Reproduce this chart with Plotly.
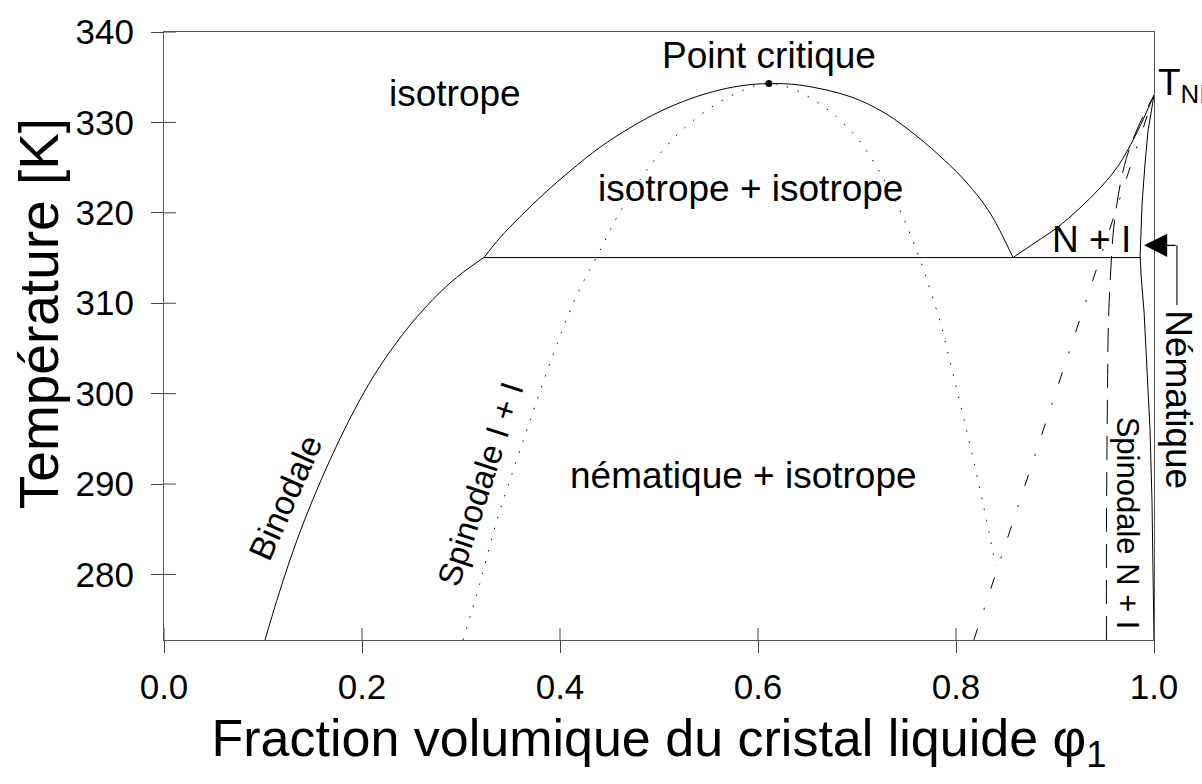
import plotly.graph_objects as go

# ---------------- data ----------------
x_ticks = [0.0, 0.2, 0.4, 0.6, 0.8, 1.0]
y_ticks = [280, 290, 300, 310, 320, 330, 340]
x_range = [0.0, 1.0]
y_range = [272.75, 340.0]

# binodal, isotropic branch below the triple line
bin_left_x = [0.102, 0.114, 0.127, 0.142, 0.159, 0.177, 0.196, 0.218, 0.248, 0.279, 0.301, 0.323]
bin_left_y = [272.75, 277.14, 281.53, 286.03, 290.53, 294.85, 298.94, 303.01, 307.51, 311.23, 313.32, 315.05]

# binodal dome I + I
dome_x = [0.3232, 0.3394, 0.3596, 0.3848, 0.4101, 0.4404, 0.4707, 0.5010, 0.5313, 0.5616, 0.5869, 0.6111,
          0.6424, 0.6929, 0.7283, 0.7606, 0.7889, 0.8111, 0.8343, 0.8576]
dome_y = [315.05, 317.25, 319.56, 322.20, 324.62, 327.25, 329.40, 331.21, 332.60, 333.60, 334.11, 334.29,
          334.13, 332.86, 331.02, 328.46, 325.76, 323.30, 320.00, 315.05]

# binodal N + I, isotropic side
ni_iso_x = [0.8576, 0.8798, 0.9020, 0.9253, 0.9455, 0.9636, 0.9808, 1.0000]
ni_iso_y = [315.05, 316.70, 318.35, 320.55, 322.75, 325.16, 328.46, 333.00]

# binodal N + I, nematic side
ni_nem_x = [1.000, 0.994, 0.991, 0.988, 0.986, 0.987, 0.990, 0.993, 0.996, 0.998, 0.999, 1.000]
ni_nem_y = [333.0, 329.1, 325.5, 321.1, 315.3, 313.0, 309.0, 303.0, 296.0, 288.0, 280.0, 272.75]

# triple line
triple_x = [0.323, 0.986]
triple_y = [315.05, 315.05]

# spinodal I + I (dotted)
spin_ii_x = [0.302, 0.319, 0.336, 0.353, 0.370, 0.387, 0.403, 0.417, 0.443, 0.458, 0.491, 0.528, 0.572, 0.611,
             0.650, 0.696, 0.736, 0.760, 0.784, 0.794, 0.811, 0.827, 0.840]
spin_ii_y = [272.75, 279.0, 285.9, 291.6, 297.1, 302.5, 307.2, 310.9, 316.4, 319.6, 325.2, 329.6, 332.9, 334.3,
             332.9, 328.8, 321.9, 315.9, 307.9, 303.5, 295.8, 288.0, 281.0]

# dash-dot line
dashdot_x = [0.818, 1.000]
dashdot_y = [272.75, 333.0]

# spinodal N + I (long dashes)
spin_ni_x = [0.952, 0.952, 0.953, 0.954, 0.956, 0.959, 0.964, 0.972, 0.984, 1.000]
spin_ni_y = [272.75, 285.0, 300.0, 308.0, 313.0, 318.0, 322.0, 326.0, 329.5, 333.0]

# critical point
crit_x = [0.611]
crit_y = [334.3]

# ---------------- figure ----------------
FONT = "Liberation Sans, Arial, Helvetica, sans-serif"
TICK_LEN = 12
TICK_COLOR = "#444"

fig = go.Figure()

def add_line(x, y, dash="solid", shape="spline"):
    fig.add_trace(go.Scatter(x=x, y=y, mode="lines",
                             line=dict(color="black", width=1, dash=dash, shape=shape, smoothing=1.0),
                             hoverinfo="skip"))

add_line(bin_left_x, bin_left_y)
add_line(dome_x, dome_y)
add_line(ni_iso_x, ni_iso_y)
add_line(ni_nem_x, ni_nem_y, shape="linear")
add_line(triple_x, triple_y, shape="linear")
add_line(spin_ii_x, spin_ii_y, dash="1.5px,10px")
add_line(dashdot_x, dashdot_y, dash="12px,20px,2px,20px", shape="linear")
add_line(spin_ni_x, spin_ni_y, dash="24px,12px")

fig.add_trace(go.Scatter(x=crit_x, y=crit_y, mode="markers",
                         marker=dict(color="black", size=7), hoverinfo="skip"))

fig.update_layout(
    width=1202, height=784,
    margin=dict(l=164, r=48, t=28, b=144),
    plot_bgcolor="white", paper_bgcolor="white",
    showlegend=False,
    font=dict(family=FONT, color="black"),
    xaxis=dict(range=x_range, tickvals=x_ticks, tickformat=".1f",
               ticks="outside", ticklen=TICK_LEN, tickwidth=1, tickcolor=TICK_COLOR,
               showline=True, linecolor="#555", linewidth=1, mirror=True,
               showgrid=False, zeroline=False,
               tickfont=dict(size=35, family=FONT), ticklabelstandoff=4,
               title=dict(text="Fraction volumique du cristal liquide φ<sub>1</sub>",
                          font=dict(size=52, family=FONT), standoff=14)),
    yaxis=dict(range=y_range, tickvals=y_ticks,
               ticks="outside", ticklen=TICK_LEN, tickwidth=1, tickcolor=TICK_COLOR,
               showline=True, linecolor="#555", linewidth=1, mirror=True,
               showgrid=False, zeroline=False,
               tickfont=dict(size=35, family=FONT), ticklabelstandoff=10),
)

# y-axis title (placed slightly above the middle, as in the reference)
fig.add_annotation(xref="paper", yref="y", x=-0.1263, y=308.9, text="Température [K]",
                   textangle=-90, showarrow=False, xanchor="center", yanchor="middle",
                   font=dict(size=55, family=FONT, color="black"))

# inner halves of the crossing ticks
for v in x_ticks:
    fig.add_shape(type="line", xref="x", yref="y", x0=v, x1=v,
                  ysizemode="pixel", yanchor=y_range[0], y0=0, y1=TICK_LEN,
                  line=dict(color=TICK_COLOR, width=1))
for v in y_ticks:
    fig.add_shape(type="line", yref="y", xref="x", y0=v, y1=v,
                  xsizemode="pixel", xanchor=x_range[0], x0=0, x1=TICK_LEN,
                  line=dict(color=TICK_COLOR, width=1))

LBL = dict(size=37, family=FONT, color="black")
ann = [
    dict(x=0.294, y=333.2, text="isotrope"),
    dict(x=0.6116, y=337.4, text="Point critique"),
    dict(x=0.592, y=322.7, text="isotrope + isotrope"),
    dict(x=0.585, y=291.0, text="nématique + isotrope"),
    dict(x=0.937, y=317.0, text="N + I"),
    dict(x=0.122, y=288.5, text="Binodale", textangle=-66, font=dict(size=34, family=FONT, color="black")),
    dict(x=0.319, y=290.0, text="Spinodale I + I", textangle=-72, font=dict(size=33, family=FONT, color="black")),
    dict(x=0.973, y=285.7, text="Spinodale N + I", textangle=90, font=dict(size=31, family=FONT, color="black")),
]
for a in ann:
    a.setdefault("font", LBL)
    fig.add_annotation(xref="x", yref="y", showarrow=False, xanchor="center", yanchor="middle", **a)

# labels outside the axes (paper x == data x since the range is [0, 1])
fig.add_annotation(xref="paper", yref="y", x=1.024, y=299.3, text="Nématique", textangle=90,
                   showarrow=False, xanchor="center", yanchor="middle", font=LBL)
fig.add_annotation(xref="paper", yref="y", x=1.002, y=334.15, text="T<sub>NI</sub>",
                   xanchor="left", yanchor="middle", showarrow=False, font=LBL)

# arrow pointing to the nematic branch
fig.add_annotation(xref="x", yref="y", x=0.990, y=316.4, text="", showarrow=True,
                   ax=33, ay=0, axref="pixel", ayref="pixel",
                   arrowhead=2, arrowsize=4.2, arrowwidth=1.1, arrowcolor="black")
fig.add_shape(type="line", xref="paper", yref="y", x0=1.0232, x1=1.0232, y0=316.4, y1=309.8,
              line=dict(color="black", width=1.1))

fig.write_html("out.html", config={"displayModeBar": False},
               post_script="document.body.style.margin='0';")
